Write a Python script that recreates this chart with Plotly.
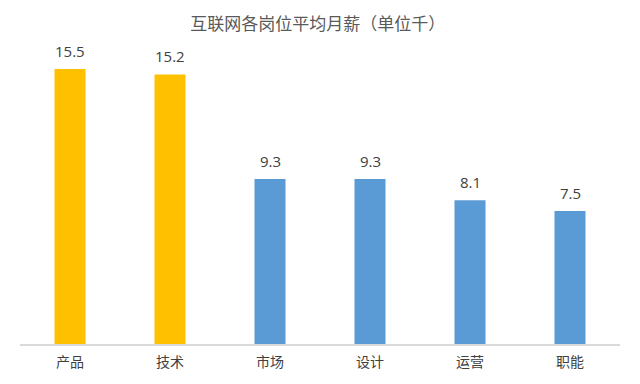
import plotly.graph_objects as go

categories = ["产品", "技术", "市场", "设计", "运营", "职能"]
values = [15.5, 15.2, 9.3, 9.3, 8.1, 7.5]
colors = ["#FFC000", "#FFC000", "#5B9BD5", "#5B9BD5", "#5B9BD5", "#5B9BD5"]
title = "互联网各岗位平均月薪（单位千）"

font = "Noto Sans CJK SC, Microsoft YaHei, sans-serif"
numfont = "Open Sans, Noto Sans, sans-serif"

fig = go.Figure(go.Bar(
    x=categories, y=values,
    marker=dict(color=colors, line=dict(width=0)),
    width=0.31,
))

for c, v in zip(categories, values):
    fig.add_annotation(x=c, y=v, text=f"{v:.1f}", showarrow=False,
                       yanchor="bottom", yshift=6,
                       font=dict(size=15, color="#404040", family=numfont))

fig.update_layout(
    width=640, height=384,
    margin=dict(l=12, r=28, t=32, b=48),
    paper_bgcolor="white", plot_bgcolor="white",
    title=dict(text=title, x=0.484, xanchor="center", y=0.958, yanchor="middle",
               font=dict(size=17, color="#595959", family=font)),
    showlegend=False,
)
fig.update_xaxes(showline=True, linecolor="#D9D9D9", linewidth=1.5,
                 tickfont=dict(size=14, color="#404040", family=font),
                 ticks="", showgrid=False, ticklabelstandoff=4)
fig.update_yaxes(range=[0, 17.14], visible=False, showgrid=False, zeroline=False)

fig.write_html("out.html")
